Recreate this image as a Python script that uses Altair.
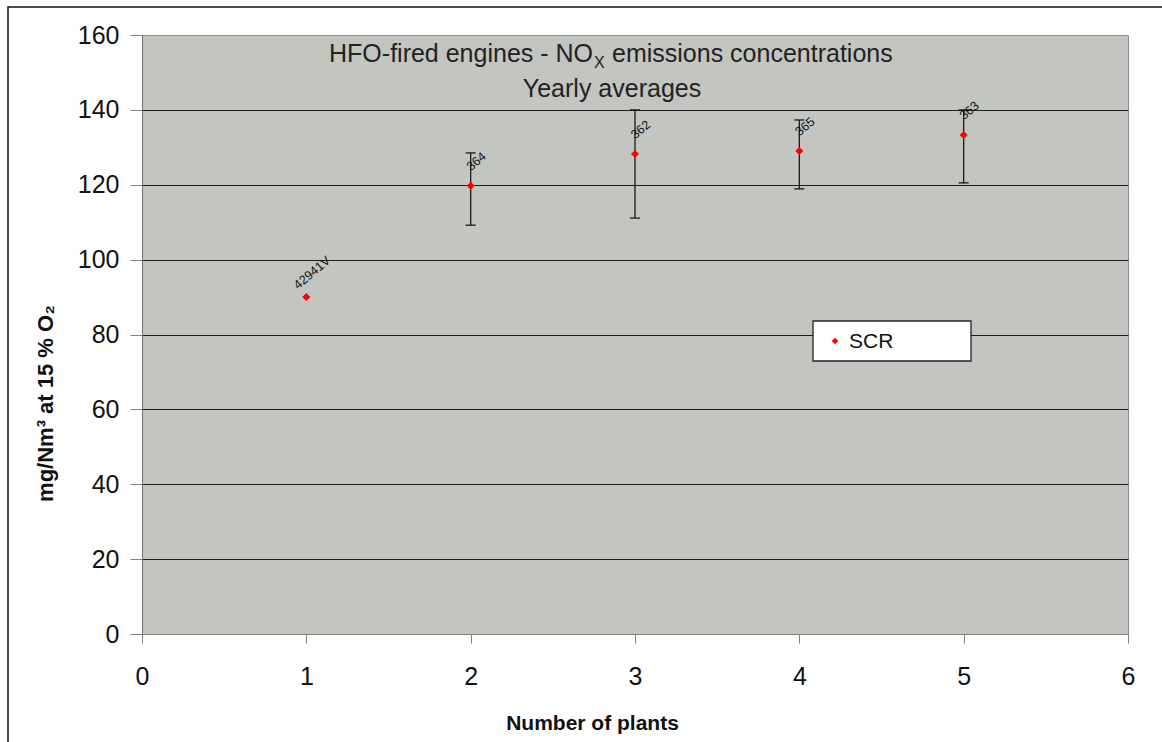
import altair as alt
import pandas as pd

# ---- data ----
plants = [1, 2, 3, 4, 5]
nox = [90.0, 119.7, 128.2, 129.0, 133.3]
err_low = [None, 109.2, 111.1, 118.9, 120.5]
err_high = [None, 128.5, 140.0, 137.3, 140.0]
point_labels = ["42941V", "364", "362", "365", "363"]
series_name = ["SCR"]
x_ticks = [0, 1, 2, 3, 4, 5, 6]
y_ticks = [0, 20, 40, 60, 80, 100, 120, 140, 160]

title_a = ["HFO-fired engines - NO"]
title_sub = ["X"]
title_b = ["emissions concentrations"]
title_2 = ["Yearly averages"]

df = pd.DataFrame({"plant": plants, "nox": nox, "lo": err_low, "hi": err_high,
                   "label": point_labels})
eb = df.dropna()

FONT = "Liberation Sans"
W, H = 986, 599

x_scale = alt.Scale(domain=[0, 6], nice=False)
y_scale = alt.Scale(domain=[0, 160], nice=False)

x_axis = alt.Axis(values=x_ticks, format="d", title="Number of plants", grid=False,
                  labelFlush=False, tickSize=9, labelPadding=21, labelFontSize=25,
                  labelFont=FONT, labelColor="#111", domainColor="#808080",
                  tickColor="#808080",
                  titleX=450, titleY=89, titleAlign="center", titleBaseline="middle",
                  titleFontSize=21, titleFontWeight="bold", titleFont=FONT, titleColor="#111")
y_axis = alt.Axis(values=y_ticks, format="d", title="mg/Nm³ at 15 % O₂",
                  labelFlush=False, tickSize=12, labelPadding=11, labelFontSize=25,
                  labelFont=FONT, labelColor="#111", domainColor="#707070",
                  tickColor="#808080",
                  grid=True, gridColor="#1e1e1e", gridWidth=1.2,
                  gridOpacity=alt.condition("datum.value == 0 || datum.value == 160",
                                            alt.value(0), alt.value(1)),
                  titleX=-97, titleY=368, titleAngle=270, titleAlign="center",
                  titleBaseline="middle", titleFontSize=22, titleFontWeight="bold",
                  titleFont=FONT, titleColor="#111")


def xe():
    return alt.X("plant:Q", scale=x_scale, axis=x_axis)


def ye(field):
    return alt.Y(field, scale=y_scale, axis=y_axis)


rules = alt.Chart(eb).mark_rule(color="#1a1a1a", strokeWidth=1.3).encode(
    x=xe(), y=ye("lo:Q"), y2="hi:Q",
)
cap_lo = alt.Chart(eb).mark_tick(orient="horizontal", size=10, thickness=1.3,
                                 color="#1a1a1a", opacity=1).encode(x=xe(), y=ye("lo:Q"))
cap_hi = alt.Chart(eb).mark_tick(orient="horizontal", size=10, thickness=1.3,
                                 color="#1a1a1a", opacity=1).encode(x=xe(), y=ye("hi:Q"))

points = alt.Chart(df).mark_point(shape="diamond", filled=True, size=64, color="#ff0000",
                                  opacity=1).encode(x=xe(), y=ye("nox:Q"))

labels = alt.Chart(df).mark_text(angle=320, dx=20, dy=-15, fontSize=12.5, font=FONT,
                                 color="#111", align="center", baseline="middle").encode(
    x=xe(), y=ye("nox:Q"), text="label:N",
)


# ---- title inside the plot ----
def txt(values):
    return alt.Chart(pd.DataFrame({"t": values}))


t1a = txt(title_a).mark_text(align="right", baseline="alphabetic", fontSize=25, font=FONT,
                             color="#222").encode(x=alt.value(451), y=alt.value(27), text="t:N")
t1s = txt(title_sub).mark_text(align="left", baseline="alphabetic", fontSize=16, font=FONT,
                               color="#222").encode(x=alt.value(452), y=alt.value(33), text="t:N")
t1b = txt(title_b).mark_text(align="left", baseline="alphabetic", fontSize=25, font=FONT,
                             color="#222").encode(x=alt.value(470), y=alt.value(27), text="t:N")
t2 = txt(title_2).mark_text(align="center", baseline="alphabetic", fontSize=25, font=FONT,
                            color="#222").encode(x=alt.value(470), y=alt.value(62), text="t:N")

# ---- legend box ----
leg_df = pd.DataFrame({"s": series_name})
leg_box = alt.Chart(leg_df).mark_rect(fill="white", stroke="#222", strokeWidth=1.3).encode(
    x=alt.value(671), x2=alt.value(829), y=alt.value(286), y2=alt.value(326))
leg_sym = alt.Chart(leg_df).mark_point(shape="diamond", filled=True, size=45, color="#ff0000",
                                       opacity=1).encode(x=alt.value(693), y=alt.value(306))
leg_txt = alt.Chart(leg_df).mark_text(align="left", baseline="middle", fontSize=21, font=FONT,
                                      color="#111").encode(x=alt.value(707), y=alt.value(307),
                                                           text="s:N")

# ---- outer frame ----
frame = alt.Chart(leg_df).mark_rect(filled=False, stroke="#111", strokeWidth=1.5).encode(
    x=alt.value(-134), x2=alt.value(1060), y=alt.value(-28), y2=alt.value(760))

chart = alt.layer(
    rules, cap_lo, cap_hi, points, labels, t1a, t1s, t1b, t2,
    leg_box, leg_sym, leg_txt, frame
).properties(
    width=W, height=H,
    autosize=alt.AutoSizeParams(type="none"),
    padding={"left": 142, "top": 35, "right": 1162 - 142 - W, "bottom": 742 - 35 - H},
    background="white",
).configure_view(
    fill="#c3c5c0", stroke="#8c8c8c", strokeWidth=1
)

chart.save("out.html", embed_options={"renderer": "svg", "actions": False})
